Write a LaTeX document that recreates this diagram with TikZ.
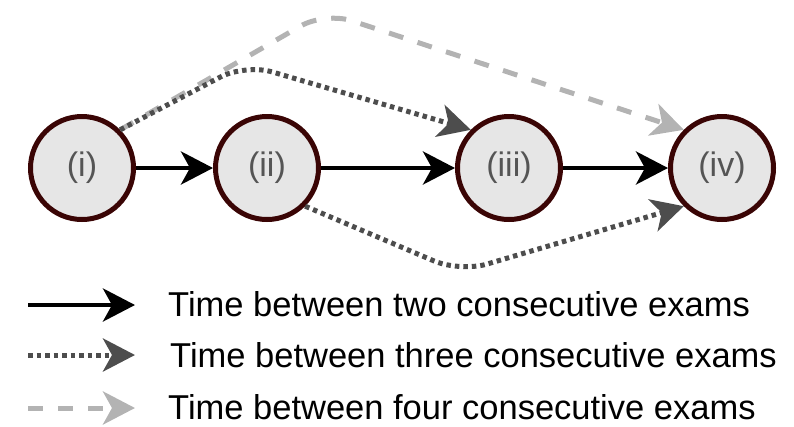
\documentclass[tikz,border=0pt]{standalone}
\usepackage{fontspec}
\setmainfont{Liberation Sans}
\usetikzlibrary{arrows.meta}
\definecolor{ringc}{HTML}{3A0505}
\definecolor{fillc}{HTML}{E6E6E6}
\definecolor{labc}{HTML}{555555}
\definecolor{dotc}{HTML}{4D4D4D}
\definecolor{dashc}{HTML}{B3B3B3}
\tikzset{
  exam/.style={circle, draw=ringc, fill=fillc, line width=5pt, minimum size=103pt, inner sep=0pt,
    text=labc, font=\fontsize{34}{40}\selectfont},
  tip/.style={-{Stealth[length=32pt,width=33pt,inset=9pt]}},
  twoarr/.style={tip, line width=4.5pt, black},
  threearr/.style={tip, line width=5pt, dotc, dash pattern=on 4.5pt off 4pt, rounded corners=28pt},
  fourarr/.style={tip, line width=5pt, dashc, dash pattern=on 15pt off 15pt, rounded corners=28pt},
  legtext/.style={anchor=west, font=\fontsize{34.5}{40}\selectfont, inner sep=0pt}
}
\begin{document}
\begin{tikzpicture}[x=1pt,y=-1pt]
\useasboundingbox (0,0) rectangle (794,426);
\node[exam] (i) at (82,168) {(i)};
\node[exam] (ii) at (267,168) {(ii)};
\node[exam] (iii) at (509,168) {(iii)};
\node[exam] (iv) at (722,168) {(iv)};
\draw[twoarr] (i) -- (ii);
\draw[twoarr] (ii) -- (iii);
\draw[twoarr] (iii) -- (iv);
\draw[fourarr] (i.45) -- (325,12) -- (iv.135);
\draw[threearr] (i.45) -- (245,64) -- (iii.135);
\draw[threearr] (ii.-45) -- (460,272) -- (iv.-135);
% legend
\coordinate (l1a) at (28,305); \coordinate (l1b) at (135,305);
\coordinate (l2a) at (28,355); \coordinate (l2b) at (135,355);
\coordinate (l3a) at (28,408); \coordinate (l3b) at (135,408);
\draw[twoarr] (l1a) -- (l1b);
\draw[threearr] (l2a) -- (l2b);
\draw[fourarr] (l3a) -- (l3b);
\node[legtext] (t1) at (168,304) {Time between two consecutive exams};
\node[legtext] (t2) at (170,355) {Time between three consecutive exams};
\node[legtext] (t3) at (168,407) {Time between four consecutive exams};
\end{tikzpicture}
\end{document}
